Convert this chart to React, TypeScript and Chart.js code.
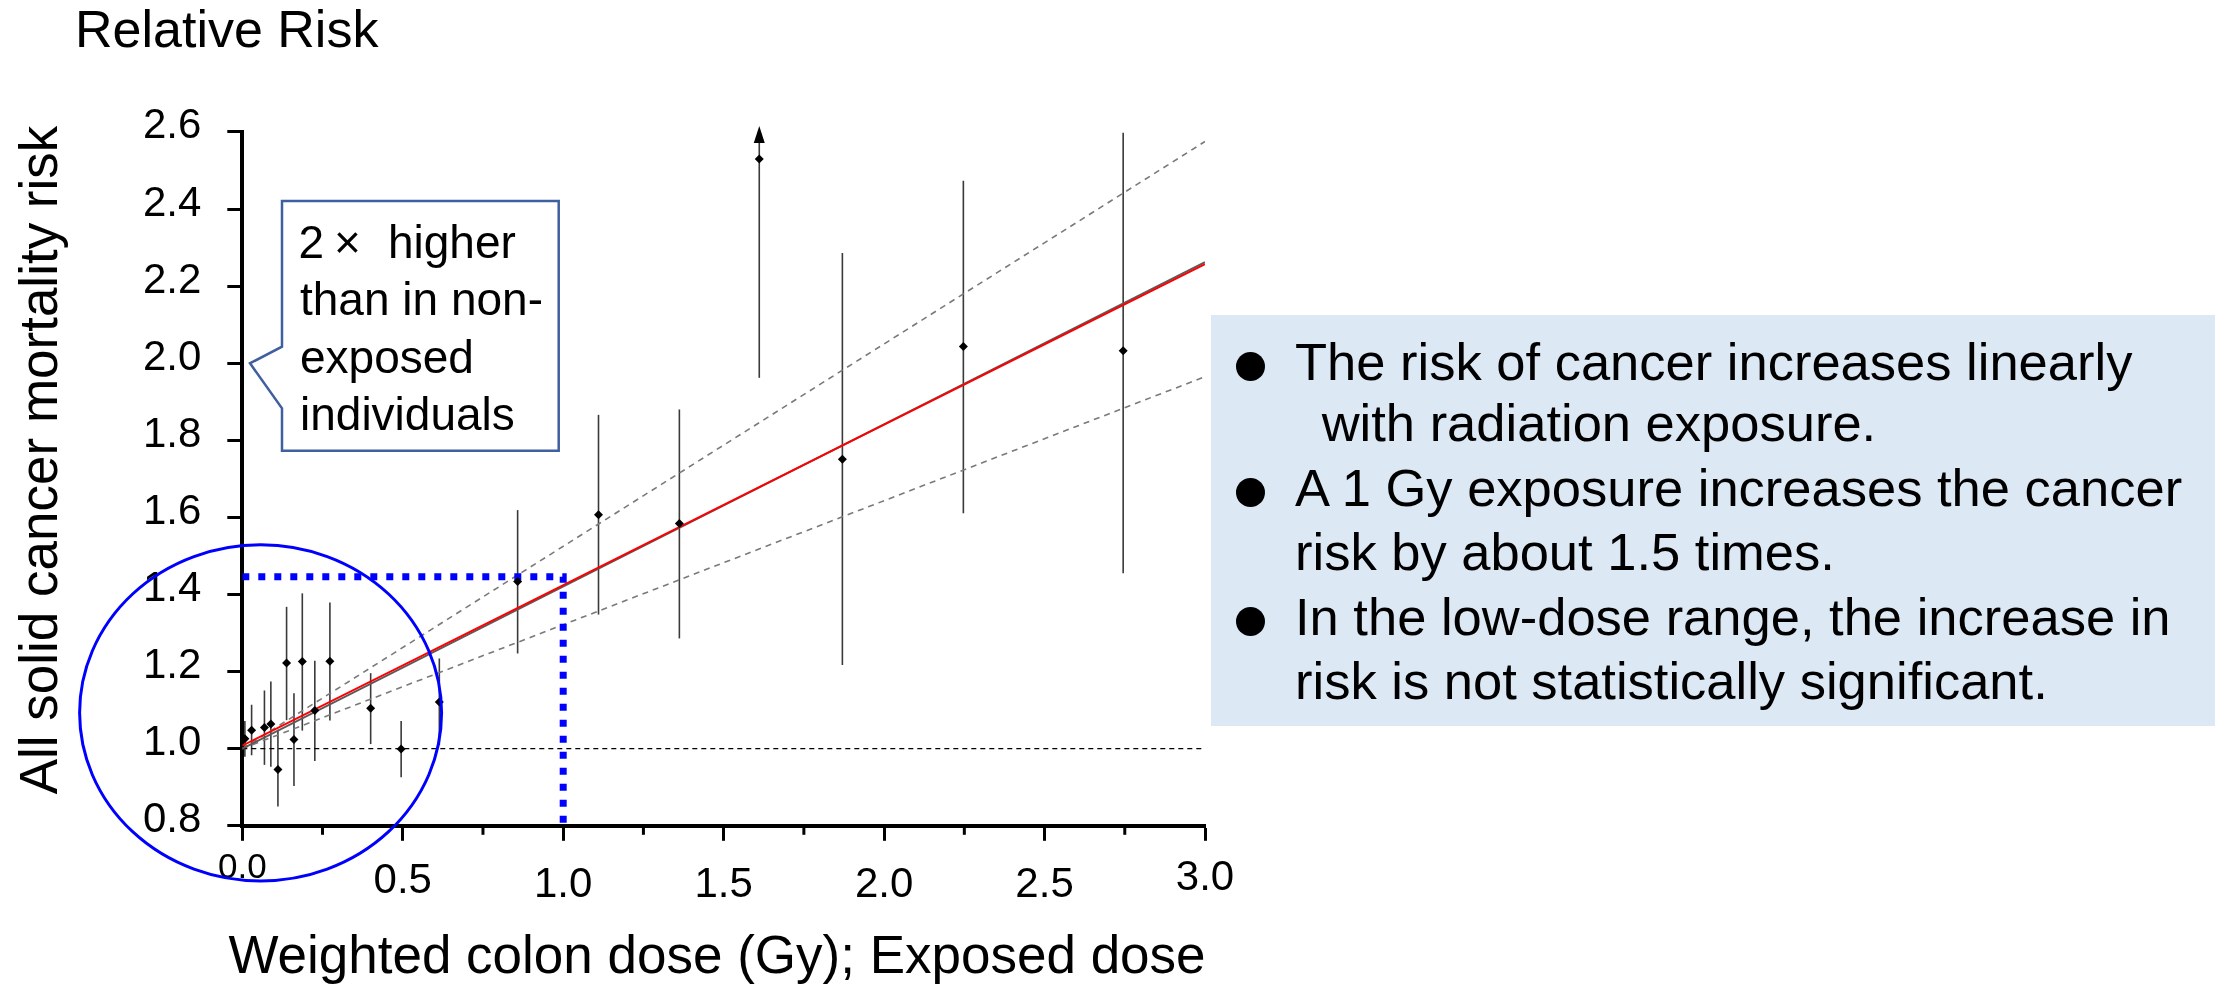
import React, { useEffect, useRef } from "react";
import { Chart, registerables } from "chart.js";

Chart.register(...registerables);

const FONT = '"Liberation Sans", Arial, Helvetica, sans-serif';

// ---- Observed relative risks by dose category ----
const doses = [0.008, 0.029, 0.069, 0.089, 0.111, 0.138, 0.161, 0.187, 0.226, 0.273, 0.4, 0.495, 0.614, 0.858, 1.11, 1.362, 1.611, 1.87, 2.247, 2.745];
const relRisk = [1.026, 1.048, 1.055, 1.064, 0.946, 1.222, 1.024, 1.226, 1.099, 1.227, 1.105, 0.999, 1.121, 1.434, 1.607, 1.584, 2.53, 1.751, 2.043, 2.032];
const ciLower = [0.979, 0.983, 0.958, 0.953, 0.85, 1.074, 0.903, 1.047, 0.968, 1.073, 1.012, 0.926, 1.01, 1.247, 1.348, 1.286, 1.962, 1.217, 1.611, 1.455];
const ciUpper = [1.072, 1.114, 1.151, 1.174, 1.049, 1.368, 1.144, 1.403, 1.228, 1.379, 1.196, 1.072, 1.234, 1.619, 1.866, 1.88, 2.615, 2.286, 2.473, 2.598];

// ---- Fitted lines ----
const fitDose = [0, 3.0];
const fitLinear = [1.008, 2.257];
const fitCurve = [1.0, 2.262];
const fitUpperCI = [1.0, 2.575];
const fitLowerCI = [1.0, 1.965];
const referenceRisk = [1.0, 1.0];

// ---- 1 Gy guide (blue dotted) ----
const markerDose = [0, 1.0, 1.0];
const markerRisk = [1.446, 1.446, 0.8];

// ---- Axis ticks ----
const xTickValues = [0, 0.5, 1.0, 1.5, 2.0, 2.5, 3.0];
const xMinorTicks = [0.25, 0.75, 1.25, 1.75, 2.25, 2.75];

// ---- Low-dose ellipse (data coordinates) ----
const ellipseCenter = [0.057, 1.093];
const ellipseRadii = [0.564, 0.436];

const xTitle = "Weighted colon dose (Gy); Exposed dose";
const yTitle = "All solid cancer mortality risk";

const bulletLines = [
  "The risk of cancer increases linearly",
  "with radiation exposure.",
  "A 1 Gy exposure increases the cancer",
  "risk by about 1.5 times.",
  "In the low-dose range, the increase in",
  "risk is not statistically significant.",
];
const calloutLines = ["higher", "than in non-", "exposed", "individuals"];

const overlayPlugin = {
  id: "overlay",
  beforeDatasetsDraw(chart: any) {
    const { ctx } = chart;
    const x = chart.scales.x;
    const y = chart.scales.y;
    ctx.save();
    ctx.strokeStyle = "#3a3a3a";
    ctx.fillStyle = "#000";
    ctx.lineWidth = 1.6;
    for (let i = 0; i < doses.length; i++) {
      const px = x.getPixelForValue(doses[i]);
      const lo = y.getPixelForValue(ciLower[i]);
      const hi = y.getPixelForValue(ciUpper[i]);
      const open = ciUpper[i] > y.max;
      ctx.beginPath();
      ctx.moveTo(px, lo);
      ctx.lineTo(px, open ? hi + 14 : hi);
      ctx.stroke();
      if (open) {
        ctx.beginPath();
        ctx.moveTo(px, hi);
        ctx.lineTo(px - 5.5, hi + 17);
        ctx.lineTo(px + 5.5, hi + 17);
        ctx.closePath();
        ctx.fill();
      }
    }
    ctx.restore();
  },
  afterDraw(chart: any) {
    const { ctx, chartArea } = chart;
    const x = chart.scales.x;
    const y = chart.scales.y;
    ctx.save();
    // minor x ticks
    ctx.strokeStyle = "#000";
    ctx.lineWidth = 3;
    for (const v of xMinorTicks) {
      const px = x.getPixelForValue(v);
      ctx.beginPath();
      ctx.moveTo(px, chartArea.bottom);
      ctx.lineTo(px, chartArea.bottom + 9);
      ctx.stroke();
    }
    // x tick labels
    ctx.fillStyle = "#000";
    ctx.textAlign = "center";
    ctx.textBaseline = "alphabetic";
    for (const v of xTickValues) {
      let size = 42;
      let dy = 71;
      if (v === 0) { size = 35; dy = 52; }
      else if (v === 0.5) { dy = 67; }
      else if (v === 3) { dy = 64; }
      ctx.font = `${size}px ${FONT}`;
      ctx.fillText(v.toFixed(1), x.getPixelForValue(v), chartArea.bottom + dy);
    }
    // axis titles
    ctx.font = `53px ${FONT}`;
    ctx.fillText(xTitle, 717, 973);
    ctx.save();
    ctx.translate(57, 460);
    ctx.rotate(-Math.PI / 2);
    ctx.fillText(yTitle, 0, 0);
    ctx.restore();
    // ellipse
    const cx = x.getPixelForValue(ellipseCenter[0]);
    const cy = y.getPixelForValue(ellipseCenter[1]);
    const rx = x.getPixelForValue(ellipseCenter[0] + ellipseRadii[0]) - cx;
    const ry = cy - y.getPixelForValue(ellipseCenter[1] + ellipseRadii[1]);
    ctx.strokeStyle = "#0000ff";
    ctx.lineWidth = 3;
    ctx.beginPath();
    ctx.ellipse(cx, cy, rx, ry, 0, 0, Math.PI * 2);
    ctx.stroke();
    ctx.restore();
  },
};

function Txt({ x, baseline, size, children, style }: any) {
  return (
    <div
      style={{
        position: "absolute",
        left: x,
        top: baseline - 0.8465 * size,
        fontSize: size,
        lineHeight: `${size}px`,
        fontFamily: FONT,
        whiteSpace: "nowrap",
        color: "#000",
        ...style,
      }}
    >
      {children}
    </div>
  );
}

export default function App() {
  const ref = useRef<HTMLCanvasElement>(null);

  useEffect(() => {
    const canvas = ref.current;
    if (!canvas) return;
    const lineDs = (label: string, xs: number[], ys: number[], color: string, width: number, dash: number[]) => ({
      type: "line",
      label,
      data: xs.map((d, i) => ({ x: d, y: ys[i] })),
      borderColor: color,
      borderWidth: width,
      borderDash: dash,
      borderCapStyle: "butt",
      pointRadius: 0,
      fill: false,
      tension: 0,
      showLine: true,
    });
    const chart = new Chart(canvas, {
      type: "scatter",
      data: {
        datasets: [
          {
            type: "scatter",
            label: "Observed relative risk",
            data: doses.map((d, i) => ({ x: d, y: relRisk[i] })),
            pointStyle: "rectRot",
            pointRadius: 4.5,
            backgroundColor: "#000",
            borderWidth: 0,
          } as any,
          lineDs("1 Gy guide", markerDose, markerRisk, "#0000ff", 7, [7, 9]),
          lineDs("Linear fit", fitDose, fitLinear, "#ff0000", 2, []),
          lineDs("Smoothed fit", fitDose, fitCurve, "#5a5a5a", 2, []),
          lineDs("Reference RR = 1", fitDose, referenceRisk, "#000", 1.2, [5, 4]),
          lineDs("Upper 95% CI", fitDose, fitUpperCI, "#7a7a7a", 1.6, [6, 5]),
          lineDs("Lower 95% CI", fitDose, fitLowerCI, "#7a7a7a", 1.6, [6, 5]),
        ] as any,
      },
      options: {
        animation: false,
        responsive: true,
        maintainAspectRatio: false,
        events: [],
        layout: { padding: { left: 0, right: 1010, top: 131.9, bottom: 0 } },
        plugins: { legend: { display: false }, tooltip: { enabled: false } },
        scales: {
          x: {
            type: "linear",
            min: 0,
            max: 3,
            ticks: { stepSize: 0.5, display: false },
            grid: { drawOnChartArea: false, drawTicks: true, tickLength: 15, tickWidth: 3, tickColor: "#000" },
            border: { display: true, color: "#000", width: 4 },
            afterFit: (s: any) => {
              s.height = 985 - 825.8;
            },
          },
          y: {
            type: "linear",
            min: 0.8,
            max: 2.6,
            ticks: {
              stepSize: 0.2,
              color: "#000",
              font: { family: FONT, size: 42 },
              padding: 26,
              labelOffset: -5,
              callback: (v: any) => Number(v).toFixed(1),
            },
            grid: { drawOnChartArea: false, drawTicks: true, tickLength: 15, tickWidth: 3, tickColor: "#000" },
            border: { display: true, color: "#000", width: 4 },
            afterFit: (s: any) => {
              s.width = 242.3;
            },
          },
        },
      } as any,
      plugins: [overlayPlugin],
    });
    return () => chart.destroy();
  }, []);

  const bulletBase = [380, 441.7, 506.7, 570.7, 635, 699.3];
  const bulletX = [1295, 1321.7, 1295, 1295, 1295, 1295];
  const calloutBase = [258, 315, 373, 430];

  return (
    <div style={{ position: "fixed", left: 0, top: 0, width: 2215, height: 985, background: "#fff", overflow: "hidden" }}>
      <canvas ref={ref} style={{ position: "absolute", left: 0, top: 0, width: 2215, height: 985 }} />
      <svg width={2215} height={985} style={{ position: "absolute", left: 0, top: 0, pointerEvents: "none" }}>
        <path
          d="M282,201 H558.7 V450.7 H282 V408.3 L250,363.3 L282,346.7 Z"
          fill="#fff"
          stroke="#3f5f9f"
          strokeWidth={2.5}
        />
      </svg>
      <Txt x={75} baseline={47} size={52}>Relative Risk</Txt>
      {/* callout */}
      <Txt x={298.5} baseline={calloutBase[0]} size={46}>
        2<span style={{ margin: "0 27px 0 10px", fontWeight: 300 }}>×</span>{calloutLines[0]}
      </Txt>
      {calloutLines.slice(1).map((t, i) => (
        <Txt key={t} x={300} baseline={calloutBase[i + 1]} size={46}>{t}</Txt>
      ))}
      {/* bullet box */}
      <div style={{ position: "absolute", left: 1211, top: 315, width: 1004, height: 411, background: "#dde8f5" }} />
      {[0, 2, 4].map((i) => (
        <div
          key={"b" + i}
          style={{
            position: "absolute",
            left: 1236,
            top: bulletBase[i] - 14 - 14.5,
            width: 29,
            height: 29,
            borderRadius: "50%",
            background: "#000",
          }}
        />
      ))}
      {bulletLines.map((t, i) => (
        <Txt key={t} x={bulletX[i]} baseline={bulletBase[i]} size={52.5}>{t}</Txt>
      ))}
    </div>
  );
}
